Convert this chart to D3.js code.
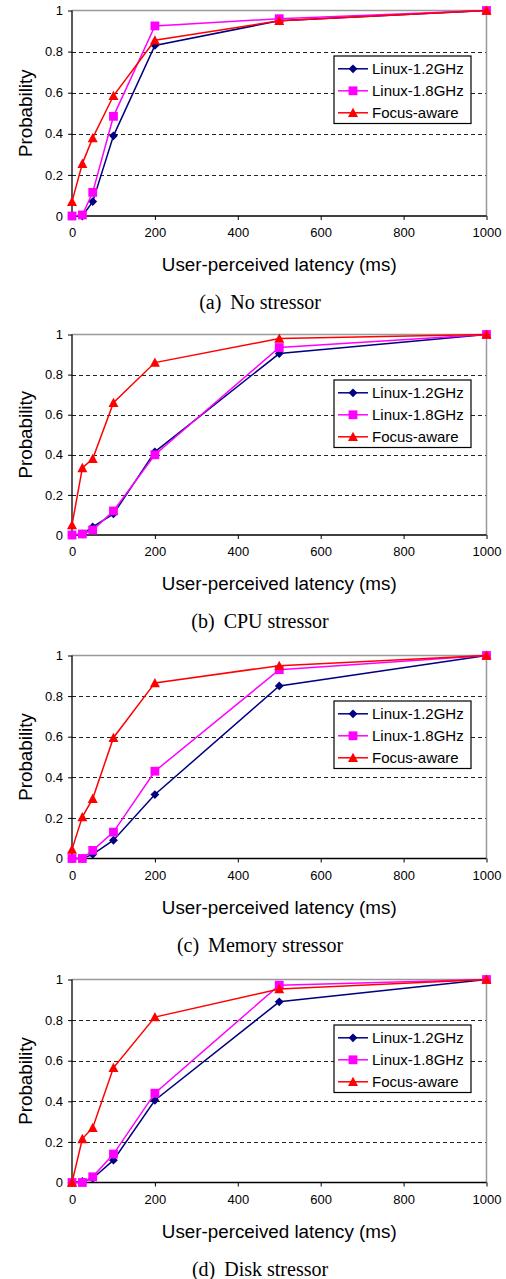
<!DOCTYPE html>
<html>
<head>
<meta charset="utf-8">
<script src="https://cdn.jsdelivr.net/npm/d3@7"></script>
<style>
  html, body { margin: 0; padding: 0; background: #fff; }
  svg { display: block; }
</style>
</head>
<body>
<div id="chart"></div>
<script>
// ---------------- DATA ----------------
const latency = [0, 25, 50, 100, 200, 500, 1000];
const seriesNames = ["Linux-1.2GHz", "Linux-1.8GHz", "Focus-aware"];
const captionLetters = ["(a)", "(b)", "(c)", "(d)"];
const captionTexts = ["No stressor", "CPU stressor", "Memory stressor", "Disk stressor"];
const xTickValues = [0, 200, 400, 600, 800, 1000];
const yTickValues = [0, 0.2, 0.4, 0.6, 0.8, 1];

// (a) No stressor
const linux12A = [0, 0, 0.07, 0.39, 0.83, 0.95, 1];
const linux18A = [0, 0.005, 0.115, 0.485, 0.925, 0.96, 1];
const focusA   = [0.07, 0.255, 0.38, 0.585, 0.855, 0.95, 1];
// (b) CPU stressor
const linux12B = [0, 0.005, 0.04, 0.105, 0.415, 0.905, 1];
const linux18B = [0, 0.005, 0.025, 0.12, 0.4, 0.935, 1];
const focusB   = [0.05, 0.335, 0.38, 0.66, 0.86, 0.98, 1];
// (c) Memory stressor
const linux12C = [0, 0, 0.02, 0.09, 0.315, 0.85, 1];
const linux18C = [0, 0, 0.04, 0.13, 0.43, 0.93, 1];
const focusC   = [0.045, 0.205, 0.295, 0.595, 0.865, 0.95, 1];
// (d) Disk stressor
const linux12D = [0, 0.005, 0.02, 0.11, 0.405, 0.89, 1];
const linux18D = [0, 0, 0.028, 0.14, 0.44, 0.972, 1];
const focusD   = [0, 0.215, 0.27, 0.565, 0.815, 0.953, 1];

const panelSeries = [
  [linux12A, linux18A, focusA],
  [linux12B, linux18B, focusB],
  [linux12C, linux18C, focusC],
  [linux12D, linux18D, focusD]
];

// ---------------- LAYOUT / STYLE ----------------
const W = 506, H = 1279;
const plotTops    = [10.5, 334.5, 655.5, 979.5];
const plotBottoms = [216, 535, 858.5, 1182.5];
const plotLeft = 72, plotRight = 486.5;
const colors = ["#000080", "#FF00FF", "#FF0000"];
const sansFont = "'Liberation Sans', Arial, Helvetica, sans-serif";
const serifFont = "'Liberation Serif', 'Times New Roman', Times, serif";

const markerPaths = [
  "M0,-4.4L4.4,0L0,4.4L-4.4,0Z",           // diamond
  "M-4.4,-4.4L4.4,-4.4L4.4,4.4L-4.4,4.4Z", // square
  "M0,-5L5,4.3L-5,4.3Z"                    // triangle
];

const svg = d3.select("#chart").append("svg")
  .attr("width", W).attr("height", H)
  .attr("viewBox", `0 0 ${W} ${H}`);

const x = d3.scaleLinear().domain([0, 1000]).range([plotLeft, plotRight]);

panelSeries.forEach((series, pi) => {
  const top = plotTops[pi], bottom = plotBottoms[pi];
  const y = d3.scaleLinear().domain([0, 1]).range([bottom, top]);
  const g = svg.append("g");

  // gridlines (dashed)
  g.append("g").selectAll("line")
    .data(yTickValues.filter(v => v > 0 && v < 1))
    .join("line")
    .attr("x1", plotLeft).attr("x2", plotRight)
    .attr("y1", d => Math.round(y(d)) + 0.5).attr("y2", d => Math.round(y(d)) + 0.5)
    .attr("stroke", "#222")
    .attr("stroke-width", 1)
    .attr("stroke-dasharray", "4,3")
    .attr("shape-rendering", "crispEdges");

  // top and right border (gray)
  g.append("line")
    .attr("x1", plotLeft).attr("x2", plotRight)
    .attr("y1", y(1)).attr("y2", y(1))
    .attr("stroke", "#999").attr("stroke-width", 1.5);
  g.append("line")
    .attr("x1", x(1000)).attr("x2", x(1000))
    .attr("y1", y(1)).attr("y2", y(0))
    .attr("stroke", "#999").attr("stroke-width", 1.5);

  // axes
  const xAxis = d3.axisBottom(x).tickValues(xTickValues).tickSize(4).tickPadding(8)
    .tickFormat(d3.format("d"));
  const yAxis = d3.axisLeft(y).tickValues(yTickValues).tickSize(4).tickPadding(5)
    .tickFormat(d3.format("~g"));

  const gx = g.append("g").attr("transform", `translate(0,${bottom})`).call(xAxis);
  const gy = g.append("g").attr("transform", `translate(${plotLeft},0)`).call(yAxis);
  [gx, gy].forEach(ax => {
    ax.select(".domain").attr("stroke", "#000").attr("stroke-width", 1.3);
    ax.selectAll(".tick line").attr("stroke", "#000");
    ax.selectAll(".tick text")
      .attr("font-family", sansFont)
      .attr("font-size", 13)
      .attr("fill", "#000");
  });
  gx.select(".domain").attr("d", `M${plotLeft},0H${plotRight}`);
  gy.select(".domain").attr("d", `M0,${bottom}V${top}`);

  // axis titles
  g.append("text")
    .attr("x", (plotLeft + plotRight) / 2)
    .attr("y", bottom + 55)
    .attr("text-anchor", "middle")
    .attr("font-family", sansFont)
    .attr("font-size", 18.8)
    .attr("fill", "#000")
    .text("User-perceived latency (ms)");

  g.append("text")
    .attr("transform", `translate(25,${(top + bottom) / 2}) rotate(-90)`)
    .attr("text-anchor", "middle")
    .attr("dominant-baseline", "central")
    .attr("font-family", sansFont)
    .attr("font-size", 18.8)
    .attr("fill", "#000")
    .text("Probability");

  // caption
  const cap = g.append("text")
    .attr("x", 260)
    .attr("y", bottom + 93)
    .attr("text-anchor", "middle")
    .attr("font-family", serifFont)
    .attr("font-size", 20)
    .attr("fill", "#000");
  cap.append("tspan").text(captionLetters[pi]);
  cap.append("tspan").attr("dx", 9).text(captionTexts[pi]);

  // legend (above gridlines)
  const legTop = top + 45.5;
  const leg = g.append("g").attr("transform", `translate(334,${legTop})`);
  leg.append("rect")
    .attr("x", 0).attr("y", 0).attr("width", 137).attr("height", 67.5)
    .attr("fill", "#fff").attr("stroke", "#000").attr("stroke-width", 1.2);
  seriesNames.forEach((name, si) => {
    const ly = 12.8 + si * 22;
    leg.append("line")
      .attr("x1", 4).attr("x2", 34).attr("y1", ly).attr("y2", ly)
      .attr("stroke", colors[si]).attr("stroke-width", 1.5);
    leg.append("path")
      .attr("d", markerPaths[si])
      .attr("transform", `translate(19,${ly})`)
      .attr("fill", colors[si]);
    leg.append("text")
      .attr("x", 38).attr("y", ly)
      .attr("dominant-baseline", "central")
      .attr("font-family", sansFont)
      .attr("font-size", 15)
      .attr("fill", "#000")
      .text(name);
  });

  // series
  const line = d3.line().x((d, i) => x(latency[i])).y(d => y(d));
  series.forEach((vals, si) => {
    g.append("path")
      .datum(vals)
      .attr("d", line)
      .attr("fill", "none")
      .attr("stroke", colors[si])
      .attr("stroke-width", 1.5);
    g.append("g").selectAll("path")
      .data(vals)
      .join("path")
      .attr("d", markerPaths[si])
      .attr("transform", (d, i) => `translate(${x(latency[i])},${y(d)})`)
      .attr("fill", colors[si]);
  });
});
</script>
</body>
</html>
